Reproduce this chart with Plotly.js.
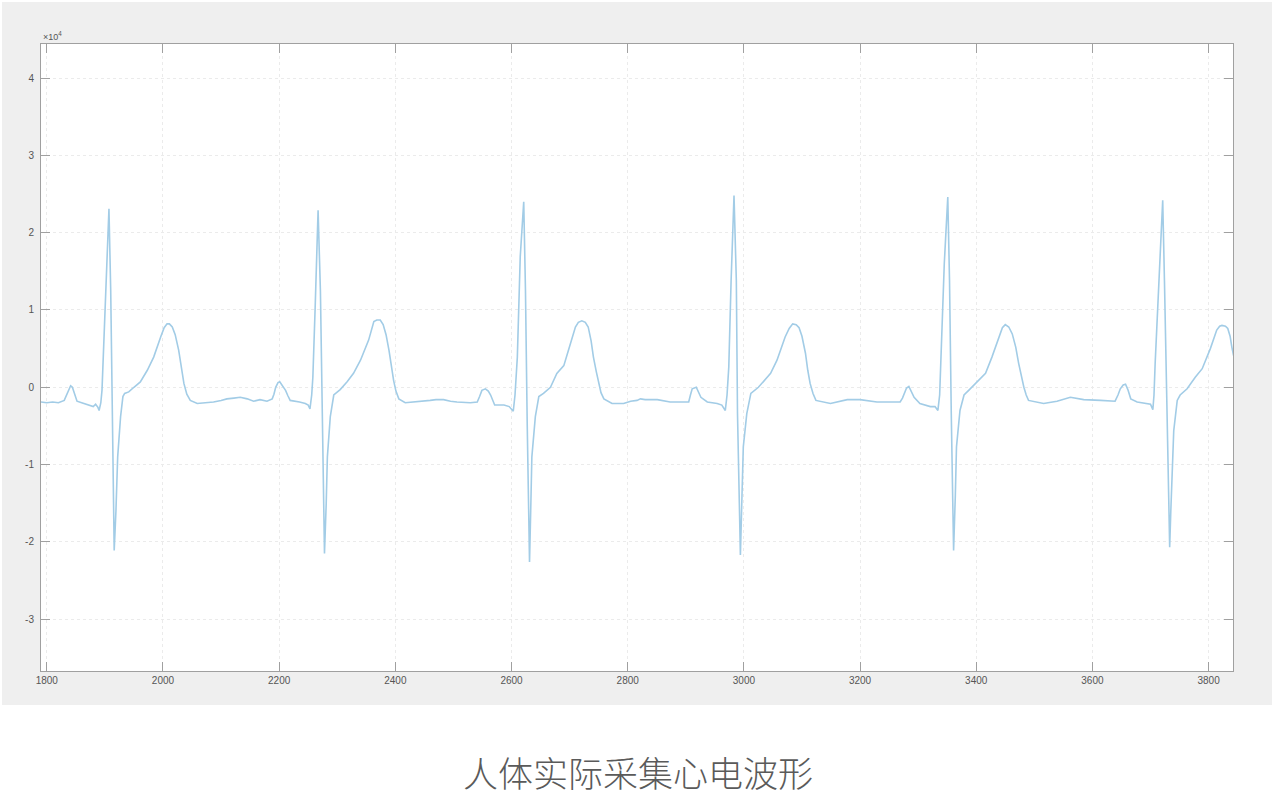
<!DOCTYPE html>
<html>
<head>
<meta charset="utf-8">
<script src="https://cdn.plot.ly/plotly-3.0.1.min.js"></script>
<style>
html,body{margin:0;padding:0;background:#ffffff;width:1280px;height:794px;overflow:hidden;}
#bg{position:absolute;left:2px;top:2px;width:1270px;height:703px;background:#efefef;}
#chart{position:absolute;left:0;top:0;width:1280px;height:720px;}
#caption{position:absolute;left:0;top:753px;width:1276px;height:38px;text-align:center;font-family:'Noto Sans CJK SC',sans-serif;font-size:35px;font-weight:300;color:#5a5a5a;line-height:38px;}
</style>
</head>
<body>
<div id="bg"></div>
<div id="chart"></div>
<div id="caption"></div>
<script>
// Sample index (x)
const sampleIndex = [
1790,1800,1810,1820,1830,1834,1838,1841,1844,1847,
1852,1860,1868,1875,1880,1884,1888,1890,1893,1895,
1901,1907,1910,1913,1916,1919,1922,1927,1931,1934,
1941,1950,1961,1973,1984,1996,2002,2007,2011,2016,
2021,2027,2032,2036,2041,2047,2059,2075,2087,2100,
2110,2122,2133,2145,2156,2167,2179,2188,2191,2194,
2198,2201,2205,2211,2215,2219,2235,2245,2250,2253,
2256,2258,2262,2267,2271,2274,2278,2281,2283,2288,
2294,2305,2317,2328,2340,2354,2359,2363,2368,2374,
2379,2384,2389,2393,2397,2401,2406,2417,2437,2460,
2470,2483,2495,2506,2529,2541,2545,2549,2555,2560,
2564,2571,2587,2596,2603,2606,2610,2615,2621,2624,
2627,2631,2633,2635,2641,2647,2655,2667,2678,2690,
2698,2710,2715,2721,2727,2732,2737,2741,2746,2750,
2754,2759,2773,2793,2805,2816,2822,2830,2851,2873,
2890,2905,2908,2911,2918,2922,2926,2937,2954,2962,
2968,2971,2974,2978,2983,2987,2989,2994,2997,2999,
3005,3012,3025,3035,3046,3057,3071,3078,3084,3090,
3095,3100,3106,3110,3114,3119,3124,3149,3165,3178,
3200,3229,3250,3269,3273,3276,3280,3284,3288,3293,
3303,3321,3329,3334,3337,3340,3345,3351,3354,3357,
3361,3364,3366,3372,3379,3387,3401,3416,3427,3439,
3445,3450,3456,3462,3468,3473,3478,3482,3486,3490,
3516,3539,3562,3575,3585,3614,3639,3644,3648,3653,
3657,3661,3666,3677,3694,3700,3704,3706,3708,3714,
3721,3724,3728,3733,3735,3740,3746,3751,3763,3777,
3789,3803,3814,3819,3823,3829,3833,3837,3840,3843
];
// ECG amplitude (raw units, axis shown as x10^4)
const ecgValue = [
-1900,-2000,-1900,-2000,-1700,-1000,-100,200,0,-600,
-1800,-2000,-2200,-2300,-2500,-2200,-2600,-3000,-2000,-400,
12500,23100,12500,-4700,-21100,-16000,-9000,-3800,-1200,-800,
-600,0,700,2200,3900,6500,7700,8200,8200,7800,
6800,4800,2500,500,-900,-1700,-2100,-2000,-1900,-1700,
-1500,-1400,-1300,-1500,-1800,-1600,-1800,-1500,-900,0,
600,700,300,-400,-1100,-1700,-1900,-2100,-2300,-2800,
-1000,1300,10400,22900,12500,-4700,-21500,-15000,-9000,-3800,
-1000,-300,700,1800,3500,6100,7600,8500,8700,8700,
8100,6800,4800,2700,900,-500,-1500,-2000,-1900,-1700,
-1600,-1600,-1800,-1900,-2000,-1900,-1200,-400,-200,-500,
-1000,-2300,-2300,-2500,-3100,-1000,3900,16900,24000,12500,
-4700,-22600,-16000,-9000,-3800,-1200,-800,0,1800,2800,
4800,7800,8400,8600,8400,7800,6000,3900,2000,500,
-700,-1500,-2100,-2100,-1800,-1700,-1500,-1600,-1600,-1900,
-1900,-1900,-1000,-200,0,-600,-1300,-1900,-2100,-2300,
-3000,-1000,2600,13800,24800,13800,-3400,-21700,-14000,-7700,
-3400,-800,0,800,1800,3500,6500,7600,8200,8100,
7700,6600,4400,2200,500,-800,-1700,-2100,-1800,-1600,
-1600,-1900,-1900,-1900,-1400,-800,-100,100,-500,-1300,
-2100,-2500,-2500,-3000,-1000,5200,16000,24600,13800,-3400,
-21100,-14000,-7700,-3000,-1000,-400,700,1800,3900,6500,
7700,8100,7800,6900,5200,3100,1300,0,-1000,-1700,
-2100,-1800,-1300,-1500,-1600,-1700,-1800,-1000,-200,300,
400,-300,-1500,-1900,-2100,-2200,-2900,-1000,3100,13800,
24200,13800,-3400,-20700,-15900,-5600,-1700,-1000,-200,1300,
2400,5000,7400,7900,8000,7900,7600,6600,5200,4100
];
// Axis ticks
const xTicks = [1800,2000,2200,2400,2600,2800,3000,3200,3400,3600,3800];
const yTickVals = [-30000,-20000,-10000,0,10000,20000,30000,40000];
const yTickText = ['-3','-2','-1','0','1','2','3','4'];
const captionText = '人体实际采集心电波形';

document.getElementById('caption').textContent = captionText;

const trace = {
  x: sampleIndex,
  y: ecgValue,
  type: 'scatter',
  mode: 'lines',
  line: {color: '#a2cce6', width: 1.6},
  hoverinfo: 'x+y'
};

const axisCommon = {
  showline: true,
  mirror: 'ticks',
  linecolor: '#a0a0a0',
  linewidth: 1,
  ticks: 'inside',
  ticklen: 9,
  tickwidth: 1,
  tickcolor: '#a0a0a0',
  showgrid: true,
  gridcolor: '#ebebeb',
  griddash: 'dot',
  gridwidth: 1,
  zeroline: false,
  tickfont: {family: 'Liberation Sans, Arial, sans-serif', size: 10, color: '#555555'}
};

const layout = {
  width: 1280,
  height: 720,
  margin: {l: 41, r: 47, t: 44, b: 49, pad: 0},
  paper_bgcolor: 'rgba(0,0,0,0)',
  plot_bgcolor: '#ffffff',
  showlegend: false,
  xaxis: Object.assign({}, axisCommon, {
    range: [1790, 3842],
    tickmode: 'array',
    tickvals: xTicks,
    ticktext: xTicks.map(String)
  }),
  yaxis: Object.assign({}, axisCommon, {
    range: [-36700, 44400],
    tickmode: 'array',
    tickvals: yTickVals,
    ticktext: yTickText,
    ticklabelstandoff: 4
  }),
  annotations: [
    {
      text: '×10<sup>4</sup>',
      xref: 'paper', yref: 'paper',
      x: 0, y: 1, xanchor: 'left', yanchor: 'bottom',
      showarrow: false,
      font: {family: 'Liberation Sans, Arial, sans-serif', size: 9, color: '#555555'}
    }
  ]
};

Plotly.newPlot('chart', [trace], layout, {displayModeBar: false, staticPlot: true});
</script>
</body>
</html>
